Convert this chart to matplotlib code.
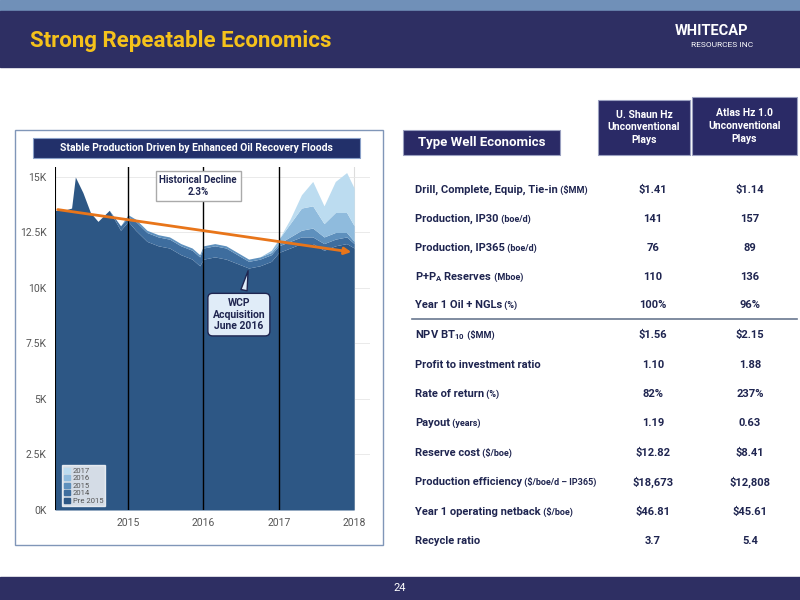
import matplotlib
matplotlib.use("Agg")
import matplotlib.pyplot as plt
import numpy as np
from matplotlib.patches import Rectangle
from matplotlib.lines import Line2D
from matplotlib.text import Annotation

FONT = ['Liberation Sans Narrow', 'Roboto', 'DejaVu Sans']
plt.rcParams['font.family'] = FONT

# ---------------- data ----------------
years = [2014.03, 2014.15, 2014.25, 2014.3, 2014.4, 2014.5, 2014.6, 2014.75, 2014.9, 2015.0,
         2015.1, 2015.25, 2015.4, 2015.55, 2015.7, 2015.85, 2015.95, 2016.0, 2016.15, 2016.3,
         2016.45, 2016.6, 2016.75, 2016.9, 2017.0, 2017.15, 2017.3, 2017.45, 2017.6, 2017.75,
         2017.9, 2018.0]
pre2015 = [13.5, 13.5, 13.6, 15.0, 14.3, 13.4, 13.0, 13.5, 12.6, 13.0,
           12.6, 12.1, 11.9, 11.8, 11.5, 11.3, 11.0, 11.3, 11.4, 11.3,
           11.1, 10.9, 11.0, 11.2, 11.6, 11.8, 12.0, 12.0, 11.7, 11.9,
           12.0, 11.8]
y2014 = [0, 0, 0, 0, 0, 0, 0, 0, 0.2, 0.2,
         0.4, 0.4, 0.4, 0.4, 0.4, 0.4, 0.4, 0.5, 0.5, 0.5,
         0.4, 0.3, 0.3, 0.3, 0.3, 0.3, 0.3, 0.3, 0.3, 0.3, 0.3, 0.2]
y2015 = [0, 0, 0, 0, 0, 0, 0, 0, 0, 0.1,
         0.1, 0.1, 0.1, 0.1, 0.1, 0.1, 0.1, 0.1, 0.1, 0.1,
         0.1, 0.1, 0.1, 0.1, 0.1, 0.2, 0.3, 0.4, 0.3, 0.3, 0.2, 0.1]
y2016 = [0]*23 + [0.1, 0.2, 0.6, 1.0, 1.0, 0.6, 0.9, 0.9, 0.7]
y2017 = [0]*25 + [0.2, 0.6, 1.1, 0.8, 1.4, 1.8, 1.7]
layer_names = ['Pre 2015', '2014', '2015', '2016', '2017']
layer_colors = ['#2d5785', '#3e6d9e', '#5e90bd', '#8fbbdd', '#bcdcf0']
trend_start = 13.55
trend_end = 11.6
yticks = [0, 2.5, 5, 7.5, 10, 12.5, 15]
yticklabels = ['0K', '2.5K', '5K', '7.5K', '10K', '12.5K', '15K']
xticks = [2015, 2016, 2017, 2018]

row_labels = ["Drill, Complete, Equip, Tie-in", "Production, IP30", "Production, IP365",
              "P+P$_\\mathregular{A}$ Reserves", "Year 1 Oil + NGLs", "NPV BT$_\\mathregular{10}$",
              "Profit to investment ratio", "Rate of return", "Payout", "Reserve cost",
              "Production efficiency", "Year 1 operating netback", "Recycle ratio"]
row_units = ["($MM)", "(boe/d)", "(boe/d)", "(Mboe)", "(%)", "($MM)", "", "(%)", "(years)",
             "($/boe)", "($/boe/d – IP365)", "($/boe)", ""]
col1 = ["$1.41", "141", "76", "110", "100%", "$1.56", "1.10", "82%", "1.19", "$12.82",
        "$18,673", "$46.81", "3.7"]
col2 = ["$1.14", "157", "89", "136", "96%", "$2.15", "1.88", "237%", "0.63", "$8.41",
        "$12,808", "$45.61", "5.4"]
row_y = [190, 219, 248, 277, 305, 335, 365, 394, 423, 453, 482, 512, 541]

# ---------------- figure ----------------
fig = plt.figure(figsize=(8, 6), dpi=100)
fig.patch.set_facecolor('white')
W, H = 800, 600
def fx(x): return x / W
def fy(y): return 1 - y / H
def rect(x0, y0, x1, y1, **kw):
    fig.patches.append(Rectangle((fx(x0), fy(y1)), (x1 - x0) / W, (y1 - y0) / H,
                                 transform=fig.transFigure, **kw))

NAVY = '#2e2f63'
rect(0, 0, 800, 11, color='#7090b8', zorder=0)
rect(0, 11, 800, 67, color=NAVY, zorder=0)
rect(0, 577, 800, 600, color=NAVY, zorder=0)
fig.text(fx(30), fy(41), "Strong Repeatable Economics", color='#f5c21b', fontsize=16,
         fontweight='bold', va='center')
fig.text(fx(675), fy(31), "WHITECAP", color='white', fontsize=10.5, fontweight='bold', va='center')
fig.text(fx(691), fy(45), "RESOURCES INC", color='white', fontsize=6, va='center')

fig.text(fx(400), fy(588), "24", color='white', fontsize=8, ha='center', va='center')

# chart frame
rect(15, 130, 383, 545, facecolor='white', edgecolor='#8096b8', lw=1, zorder=0.5)
rect(33, 138, 360, 158, facecolor='#22306a', edgecolor='#8aa0c8', lw=0.8, zorder=1)
fig.text(fx(196), fy(148), "Stable Production Driven by Enhanced Oil Recovery Floods",
         color='white', fontsize=7.5, fontweight='bold', ha='center', va='center')

# table headers
def hbox(x0, y0, x1, y1, lines, fs):
    rect(x0, y0, x1, y1, facecolor='#2a2a66', edgecolor='#9aa0c0', lw=0.8, zorder=1)
    fig.text(fx((x0 + x1) / 2), fy((y0 + y1) / 2), lines, color='white', fontsize=fs,
             fontweight='bold', ha='center', va='center', linespacing=1.35)
hbox(403, 130, 560, 155, "Type Well Economics", 9.5)
hbox(598, 100, 690, 155, "U. Shaun Hz\nUnconventional\nPlays", 7.5)
hbox(692, 97, 797, 155, "Atlas Hz 1.0\nUnconventional\nPlays", 7.5)

TXT = '#1f2550'
for lab, unit, a, b, y in zip(row_labels, row_units, col1, col2, row_y):
    t = fig.text(fx(415), fy(y), lab, color=TXT, fontsize=8, fontweight='bold', va='center')
    if unit:
        fig.add_artist(Annotation(" " + unit, xy=(1, 0.5), xycoords=t, va='center', ha='left',
                                  color=TXT, fontsize=6.5, fontweight='bold', annotation_clip=False))
    fig.text(fx(653), fy(y), a, color=TXT, fontsize=8, fontweight='bold', ha='center', va='center')
    fig.text(fx(750), fy(y), b, color=TXT, fontsize=8, fontweight='bold', ha='center', va='center')
fig.lines.append(Line2D([fx(412), fx(797)], [fy(319), fy(319)], transform=fig.transFigure,
                        color='#6a7890', lw=1.2))

# ---------------- chart ----------------
ax = fig.add_axes([fx(55), fy(510), (370 - 55) / W, (510 - 167) / H])
ax.set_zorder(2)
ax.set_facecolor('white')
layers = [pre2015, y2014, y2015, y2016, y2017]
x = np.array(years)
cum = np.zeros(len(x))
for vals, c, name in zip(layers, layer_colors, layer_names):
    v = np.array(vals)
    ax.fill_between(x, cum, cum + v, color=c, lw=0, label=name)
    cum = cum + v
ax.set_xlim(2014.03, 2018.21)
ax.set_ylim(0, 15.45)
ax.set_yticks(yticks)
ax.set_yticklabels(yticklabels)
ax.set_xticks(xticks)
ax.set_xticklabels([str(t) for t in xticks])
ax.tick_params(length=0, colors='#555555', labelsize=7.5, pad=6)
ax.grid(axis='y', color='#e6e6e6', lw=0.6)
ax.set_axisbelow(True)
for s in ax.spines.values():
    s.set_visible(False)
for t in xticks[:-1]:
    ax.axvline(t, color='black', lw=1, zorder=3)
ax.axvline(2014.03, color='black', lw=1.5, zorder=3)
ax.axvline(2018.0, color='#dddddd', lw=0.8, zorder=0)
ax.annotate("", xy=(2018.0, trend_end), xytext=(2014.03, trend_start),
            arrowprops=dict(arrowstyle='-|>', color='#e8751a', lw=2, mutation_scale=10), zorder=5)

ax.text(2015.93, 14.6, "Historical Decline\n2.3%", ha='center', va='center', fontsize=7,
        fontweight='bold', color=TXT, zorder=6,
        bbox=dict(boxstyle='square,pad=0.4', fc='white', ec='#aaaaaa', lw=1))
ax.annotate("WCP\nAcquisition\nJune 2016", xy=(2016.6, 10.9), xytext=(2016.47, 8.8),
            ha='center', va='center', fontsize=7.5, fontweight='bold', color=TXT, zorder=6,
            bbox=dict(boxstyle='round,pad=0.45', fc='#e0ecf8', ec='#1f2550', lw=1),
            arrowprops=dict(arrowstyle='wedge,tail_width=0.6', fc='#e0ecf8', ec='#1f2550', lw=1))

handles = [Rectangle((0, 0), 1, 1, color=c) for c in layer_colors[::-1]]
leg = ax.legend(handles, layer_names[::-1], loc='lower left', bbox_to_anchor=(0.01, 0.0),
                fontsize=5.5, frameon=True, fancybox=False, handlelength=0.7, handleheight=0.7,
                handletextpad=0.4, borderpad=0.3, labelspacing=0.15, edgecolor='white')
leg.get_frame().set_facecolor('white')
for t in leg.get_texts():
    t.set_color('#555555')

fig.savefig("out.png", dpi=100, facecolor=fig.get_facecolor())
